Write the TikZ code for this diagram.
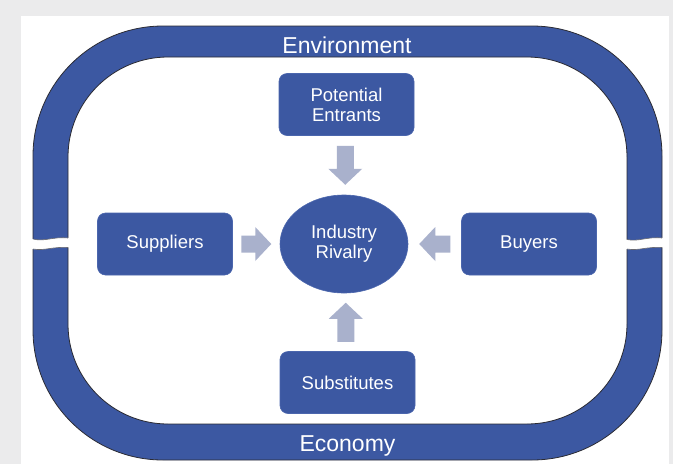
\documentclass[tikz,border=0pt]{standalone}
\usepackage{fontspec}
\setmainfont{Liberation Sans}
\usetikzlibrary{calc,shapes.geometric}

\definecolor{pagegray}{HTML}{EBEBEC}
\definecolor{forceblue}{HTML}{3C58A2}
\definecolor{boxedge}{HTML}{4B66AD}
\definecolor{ringedge}{HTML}{2B2B33}
\definecolor{arrowfill}{HTML}{A9B1CC}
\definecolor{gapedge}{HTML}{6A6A70}

\tikzset{
  force/.style={rounded corners=8pt, fill=forceblue, draw=boxedge, line width=0.6pt,
    minimum width=135pt, minimum height=62pt, inner sep=0pt,
    text=white, align=center, font=\fontsize{18.5}{20}\selectfont},
  rivalry/.style={ellipse, fill=forceblue, draw=boxedge, line width=0.6pt,
    minimum width=128pt, minimum height=98pt, inner sep=0pt,
    text=white, align=center, font=\fontsize{18.5}{20}\selectfont},
  ringlabel/.style={text=white, font=\fontsize{23}{24}\selectfont, inner sep=0pt},
  gapshape/.style={fill=white, draw=none},
  gapline/.style={draw=gapedge, line width=0.6pt},
  pics/flowarrow/.style={code={
    \fill[arrowfill] (-#1/2,-8.5) -- (#1/2-16,-8.5) -- (#1/2-16,-17) -- (#1/2,0)
      -- (#1/2-16,17) -- (#1/2-16,8.5) -- (-#1/2,8.5) -- cycle;}}
}

\begin{document}
\begin{tikzpicture}[x=1pt,y=-1pt]
  % page and white sheet
  \fill[pagegray] (0,0) rectangle (673,464);
  \fill[white] (21,16) rectangle (669,464);
  \useasboundingbox (0,0) rectangle (673,464);

  % environment / economy ring
  \path[fill=forceblue, draw=ringedge, line width=0.8pt, even odd rule]
    [rounded corners=130pt] (33,26) rectangle (662,460)
    [rounded corners=100pt] (68,57) rectangle (627,424);

  % breaks in the ring, left and right
  \fill[gapshape] (32,239) .. controls (45,242) and (52,236.5) .. (69,238)
    -- (69,247.5) .. controls (52,246.5) and (45,251) .. (32,249) -- cycle;
  \draw[gapline] (33,239) .. controls (45,242) and (52,236.5) .. (68,238);
  \draw[gapline] (33,249) .. controls (45,251) and (52,246.5) .. (68,247.5);
  \fill[gapshape] (626,239.5) .. controls (639,242) and (646,236.5) .. (663,238)
    -- (663,247.5) .. controls (646,246.5) and (639,251) .. (626,249) -- cycle;
  \draw[gapline] (627,239.5) .. controls (639,242) and (646,236.5) .. (662,238);
  \draw[gapline] (627,249) .. controls (639,251) and (646,246.5) .. (662,247.5);

  \node[ringlabel] (env) at (347,45) {Environment};
  \node[ringlabel] (eco) at (347.5,446) {Economy};

  % the five forces
  \node[rivalry] (ir) at (344,244) {Industry\\Rivalry};
  \node[force] (pe) at (346.5,104.5) {Potential\\Entrants};
  \node[force] (sup) at (165,244) {Suppliers};
  \node[force] (buy) at (529,244) {Buyers};
  \node[force] (sub) at (347.5,382.5) {Substitutes};

  % block arrows pointing at the rivalry
  \pic[rotate=-90] at ($(pe.south)!0.5!(ir.north)$) {flowarrow=39};
  \pic at ($(sup.east)!0.5!(ir.west)$) {flowarrow=30};
  \pic[rotate=180] at ($(buy.west)!0.5!(ir.east)$) {flowarrow=31};
  \pic[rotate=90] at ($(sub.north)!0.5!(ir.south)$) {flowarrow=39};
\end{tikzpicture}
\end{document}
